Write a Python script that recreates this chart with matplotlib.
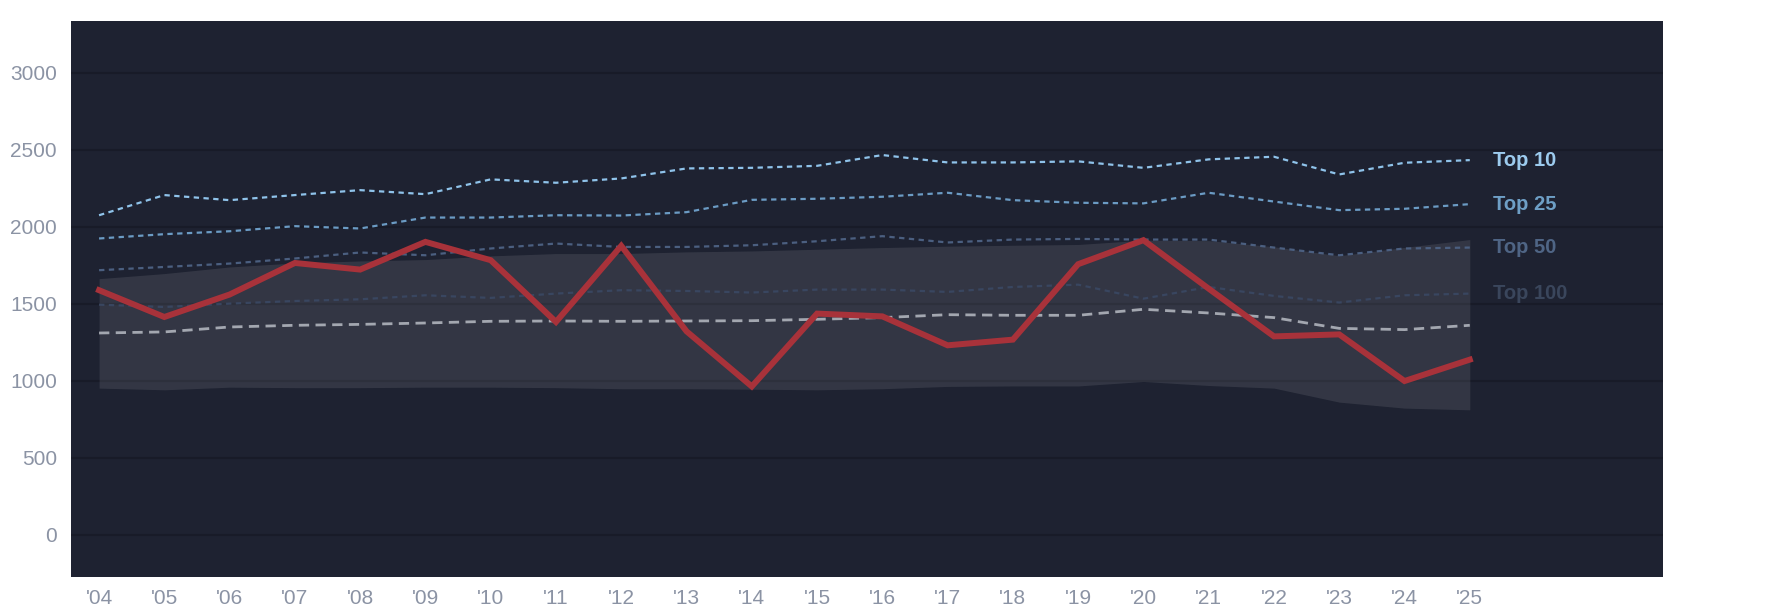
import matplotlib
matplotlib.use("Agg")
import matplotlib.pyplot as plt
import numpy as np

years = list(range(2004, 2026))
year_labels = ["'%02d" % (y % 100) for y in years]

top10 = [2075, 2206, 2173, 2206, 2238, 2212, 2308, 2286, 2314, 2379, 2383, 2396, 2466,
         2418, 2418, 2425, 2383, 2438, 2455, 2340, 2416, 2433]
top25 = [1924, 1952, 1971, 2004, 1989, 2060, 2060, 2075, 2073, 2095, 2175, 2182, 2195,
         2221, 2173, 2156, 2152, 2221, 2164, 2108, 2117, 2147]
top50 = [1718, 1739, 1761, 1794, 1833, 1815, 1859, 1891, 1869, 1869, 1880, 1906, 1939,
         1898, 1917, 1921, 1917, 1917, 1865, 1815, 1859, 1865]
top100 = [1494, 1479, 1501, 1518, 1529, 1555, 1538, 1566, 1588, 1583, 1573, 1592, 1592,
          1577, 1609, 1624, 1533, 1609, 1551, 1508, 1555, 1566]
median = [1310, 1317, 1349, 1360, 1366, 1375, 1386, 1388, 1386, 1388, 1390, 1399, 1410,
          1429, 1425, 1425, 1464, 1440, 1410, 1340, 1332, 1360]
team = [1588, 1414, 1560, 1765, 1722, 1902, 1783, 1382, 1876, 1321, 963, 1436, 1418,
        1230, 1267, 1757, 1913, 1598, 1288, 1301, 998, 1137]
band_high = [1663, 1696, 1739, 1765, 1778, 1787, 1811, 1826, 1826, 1837, 1843, 1854, 1865,
             1874, 1880, 1885, 1913, 1910, 1870, 1812, 1866, 1917]
band_low = [952, 941, 958, 955, 955, 958, 958, 955, 948, 948, 945, 941, 948,
            963, 966, 966, 995, 969, 952, 861, 822, 811]

tier_names = ["Top 10", "Top 25", "Top 50", "Top 100"]
tier_values = [top10, top25, top50, top100]
tier_colors = ["#8fc3ea", "#6b9bc4", "#4b5f80", "#394660"]
label_colors = ["#9ccbee", "#6e9fc6", "#4f6585", "#3a465c"]

yticks = [0, 500, 1000, 1500, 2000, 2500, 3000]

plt.rcParams['font.family'] = ['Liberation Sans', 'DejaVu Sans']

fig = plt.figure(figsize=(17.85, 6.14), dpi=100)
fig.patch.set_facecolor("white")
ax = fig.add_axes([71 / 1785, (614 - 577) / 614, (1663 - 71) / 1785, (577 - 20.5) / 614])
ax.set_facecolor("#1e2231")

for v in yticks:
    ax.axhline(v, color="#181b28", lw=1.5, zorder=1)

ax.fill_between(years, band_low, band_high, color="white", alpha=0.093, lw=0, zorder=2)

ax.plot(years, median, color="#a3a7b0", lw=2.0, dashes=(3.7, 2.3), zorder=3)
for vals, col in zip(tier_values[::-1], tier_colors[::-1]):
    ax.plot(years, vals, color=col, lw=1.6, dashes=(2.4, 2.0), zorder=3)

ax.plot(years, team, color="#a8323a", lw=4.3, zorder=5, solid_joinstyle="miter")

for name, vals, col in zip(tier_names, tier_values, label_colors):
    ax.text(years[-1] + 0.36, vals[-1], name, color=col, fontsize=14.5, fontweight="bold",
            va="center", ha="left", zorder=6)

ax.set_xlim(2003.57, 2027.96)
ax.set_ylim(-275, 3340)
ax.set_xticks(years)
ax.set_xticklabels(year_labels)
ax.set_yticks(yticks)
ax.tick_params(axis="both", length=0, colors="#8b93a4", labelsize=15)
ax.tick_params(axis="x", pad=9)
ax.tick_params(axis="y", pad=10)
for s in ax.spines.values():
    s.set_visible(False)

fig.savefig("out.png", dpi=100, facecolor="white")
